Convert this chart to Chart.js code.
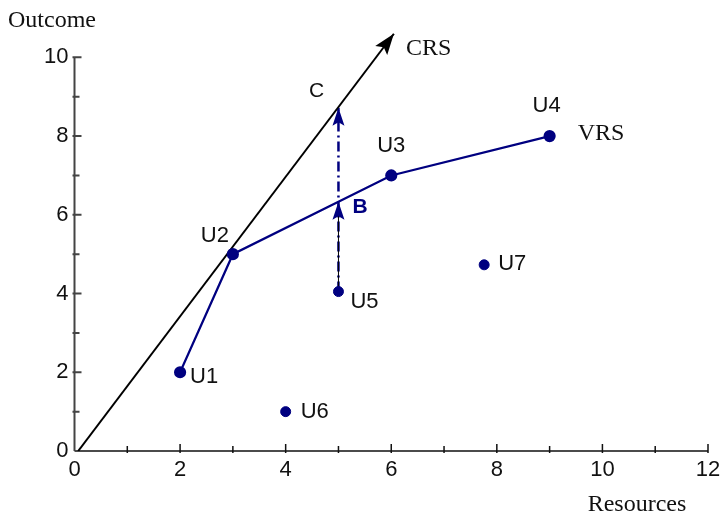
<!DOCTYPE html>
<html>
<head>
<meta charset="utf-8">
<script src="https://cdn.jsdelivr.net/npm/chart.js@4"></script>
<style>
  html, body { margin: 0; padding: 0; background: #fff; }
  #wrap { width: 723px; height: 516px; }
</style>
</head>
<body>
<div id="wrap"><canvas id="chart"></canvas></div>
<script>
// decision making units
const units = ['U1', 'U2', 'U3', 'U4', 'U5', 'U6', 'U7'];
const resources = [2, 3, 6, 9, 5, 4, 7.76];
const outcome = [2, 5, 7, 8, 4.05, 1, 4.73];
const frontierUnits = ['U1', 'U2', 'U3', 'U4'];   // VRS frontier
// CRS ray from the origin
const crsX = [0.07, 6.05];
const crsY = [0, 10.6];
// projection of U5: U5 -> B (VRS) -> C (CRS)
const projX = 5;
const projY = [4.05, 6.33, 8.72];
const xTicks = [0, 2, 4, 6, 8, 10, 12];
const yTicks = [0, 2, 4, 6, 8, 10];

const NAVY = '#000080';
const SANS = '"Liberation Sans", Arial, sans-serif';
const SERIF = '"Liberation Serif", "Times New Roman", serif';

const pt = name => {
    const i = units.indexOf(name);
    return { x: resources[i], y: outcome[i], name: name };
};

// where each unit label sits relative to its dot
const labelPos = {
    U1: [10, 5, 'left'], U2: [-4, -18, 'right'], U3: [0, -30, 'center'],
    U4: [-3, -30, 'center'], U5: [12, 10, 'left'], U6: [15, 0, 'left'], U7: [14, -1, 'left']
};

function arrowHead(ctx, from, to, len, half, color) {
    const a = Math.atan2(to.y - from.y, to.x - from.x);
    ctx.save();
    ctx.fillStyle = color;
    ctx.translate(to.x, to.y);
    ctx.rotate(a);
    ctx.beginPath();
    ctx.moveTo(0, 0);
    ctx.lineTo(-len, -half);
    ctx.lineTo(-len * 0.8, 0);
    ctx.lineTo(-len, half);
    ctx.closePath();
    ctx.fill();
    ctx.restore();
}

const axesPlugin = {
    id: 'axes',
    beforeDatasetsDraw(chart) {
        const { ctx, scales: { x, y } } = chart;
        const x0 = x.getPixelForValue(0), y0 = y.getPixelForValue(0);
        ctx.save();
        ctx.lineWidth = 1.5;
        ctx.strokeStyle = '#111';
        ctx.beginPath();
        ctx.moveTo(x0, y0);
        ctx.lineTo(x.getPixelForValue(12), y0);
        for (let v = 1; v <= 12; v++) {
            const px = x.getPixelForValue(v);
            ctx.moveTo(px, y0 + 2);
            ctx.lineTo(px, y0 - (v % 2 ? 5 : 7));
        }
        ctx.stroke();
        ctx.strokeStyle = '#444';
        ctx.lineWidth = 2;
        ctx.beginPath();
        ctx.moveTo(x0, y0);
        ctx.lineTo(x0, y.getPixelForValue(10));
        for (let v = 1; v <= 10; v++) {
            const py = y.getPixelForValue(v);
            ctx.moveTo(x0 - 2, py);
            ctx.lineTo(x0 + (v % 2 ? 5 : 7), py);
        }
        ctx.stroke();
        ctx.restore();
    },
    afterDatasetsDraw(chart) {
        const { ctx } = chart;
        const crs = chart.getDatasetMeta(2).data;
        const proj = chart.getDatasetMeta(4).data;
        arrowHead(ctx, crs[0], crs[1], 21, 7.5, '#000');
        arrowHead(ctx, proj[0], proj[1], 18, 6, NAVY);
        arrowHead(ctx, proj[1], proj[2], 18, 6, NAVY);

        ctx.save();
        ctx.textBaseline = 'middle';
        ctx.fillStyle = '#111';
        ctx.font = '22px ' + SANS;
        [0, 1].forEach(di => {
            const ds = chart.data.datasets[di];
            chart.getDatasetMeta(di).data.forEach((el, i) => {
                const name = ds.data[i].name;
                const [dx, dy, align] = labelPos[name];
                ctx.textAlign = align;
                ctx.fillText(name, el.x + dx, el.y + dy);
            });
        });
        ctx.textAlign = 'center';
        ctx.font = '21px ' + SANS;
        ctx.fillText('C', proj[2].x - 22, proj[2].y - 17);
        ctx.fillStyle = NAVY;
        ctx.textAlign = 'left';
        ctx.font = 'bold 21px ' + SANS;
        ctx.fillText('B', proj[1].x + 14, proj[1].y + 5);

        ctx.fillStyle = '#111';
        ctx.font = '24px ' + SERIF;
        ctx.fillText('CRS', crs[1].x + 12, crs[1].y + 15);
        const u4 = chart.getDatasetMeta(0).data[3];
        ctx.fillText('VRS', u4.x + 28, u4.y - 2);
        ctx.fillText('Outcome', 8, 21);
        ctx.textAlign = 'center';
        ctx.fillText('Resources', 637, 505);
        ctx.restore();
    }
};

new Chart(document.getElementById('chart'), {
    type: 'scatter',
    data: {
        datasets: [
            {
                label: 'VRS',
                data: frontierUnits.map(pt),
                showLine: true,
                borderColor: NAVY,
                backgroundColor: NAVY,
                borderWidth: 2.2,
                pointRadius: 5,
                pointHoverRadius: 5
            },
            {
                label: 'other units',
                data: units.filter(u => !frontierUnits.includes(u)).map(pt),
                borderColor: NAVY,
                backgroundColor: NAVY,
                pointRadius: 5,
                pointHoverRadius: 5
            },
            {
                label: 'CRS',
                data: crsX.map((v, i) => ({ x: v, y: crsY[i] })),
                showLine: true,
                borderColor: '#000',
                borderWidth: 2,
                pointRadius: 0
            },
            {
                label: 'projection base',
                data: projY.slice(0, 2).map(v => ({ x: projX, y: v })),
                showLine: true,
                borderColor: '#000',
                borderWidth: 1,
                pointRadius: 0
            },
            {
                label: 'projection',
                data: projY.map(v => ({ x: projX, y: v })),
                showLine: true,
                borderColor: NAVY,
                borderWidth: 2.5,
                borderDash: [10, 4, 2, 4],
                pointRadius: 0
            }
        ]
    },
    options: {
        responsive: true,
        maintainAspectRatio: false,
        animation: false,
        layout: { padding: { top: 18, right: 15, left: 0, bottom: 0 } },
        plugins: {
            legend: { display: false },
            tooltip: { enabled: false }
        },
        scales: {
            x: {
                type: 'linear',
                min: 0,
                max: 12,
                afterBuildTicks: s => { s.ticks = xTicks.map(v => ({ value: v })); },
                afterFit: s => { s.height = 65; s.paddingLeft = 0; s.paddingRight = 0; },
                grid: { display: false, drawTicks: false },
                border: { display: false },
                ticks: { padding: 6, color: '#111', font: { family: SANS, size: 22 } }
            },
            y: {
                type: 'linear',
                min: 0,
                max: 11,
                afterBuildTicks: s => { s.ticks = yTicks.map(v => ({ value: v })); },
                afterFit: s => { s.width = 74.5; s.paddingTop = 0; s.paddingBottom = 0; },
                grid: { display: false, drawTicks: false },
                border: { display: false },
                ticks: { padding: 6, color: '#111', font: { family: SANS, size: 22 } }
            }
        }
    },
    plugins: [axesPlugin]
});
</script>
</body>
</html>
